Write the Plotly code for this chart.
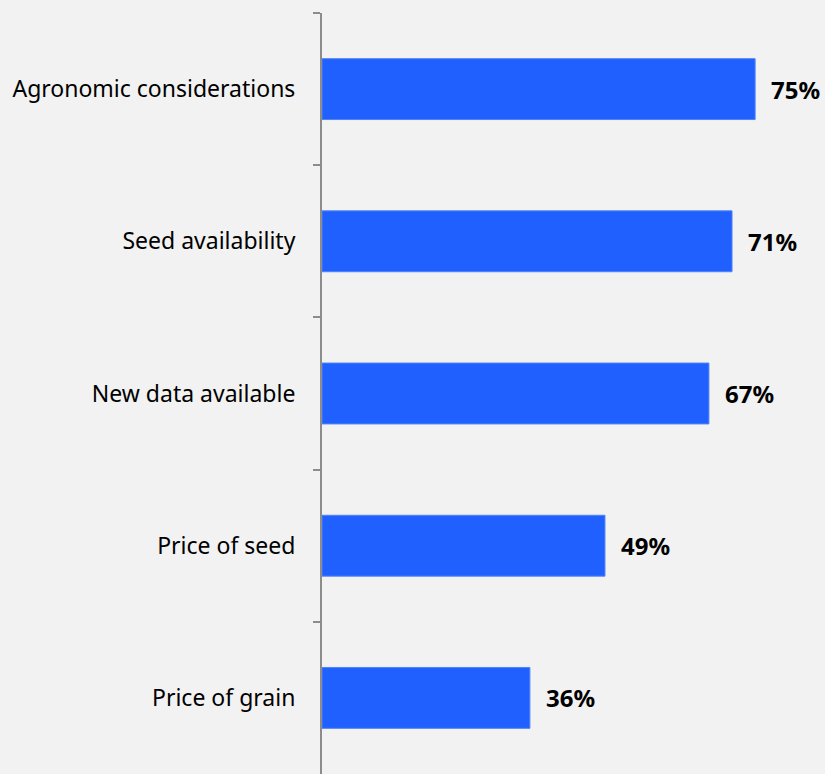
import plotly.graph_objects as go

categories = ["Agronomic considerations", "Seed availability", "New data available",
              "Price of seed", "Price of grain"]
values = [75, 71, 67, 49, 36]
labels = ["75%", "71%", "67%", "49%", "36%"]

fig = go.Figure(go.Bar(
    x=values, y=categories, orientation="h",
    marker=dict(color="#1F60FF", line=dict(color="#4F84F5", width=1)),
    hoverinfo="skip",
))

# value labels to the right of each bar
for v, c, t in zip(values, categories, labels):
    fig.add_annotation(x=v, y=c, text="<b>%s</b>" % t, showarrow=False,
                       xanchor="left", xshift=14,
                       font=dict(family="Noto Sans", size=24, color="#000000"))

fig.update_layout(
    width=825, height=774,
    margin=dict(l=322, r=0, t=13, b=0),
    paper_bgcolor="#F2F2F2", plot_bgcolor="#F2F2F2",
    bargap=0.6, showlegend=False,
    font=dict(family="Noto Sans", size=23, color="#000000"),
)
fig.update_xaxes(range=[0, 87.1], visible=False)
fig.update_yaxes(autorange="reversed", type="category", showline=True,
                 linecolor="#8C8C8C", linewidth=2, ticks="outside",
                 tickson="boundaries", ticklen=7, tickcolor="#8C8C8C",
                 tickwidth=2, ticklabelstandoff=20, showgrid=False,
                 zeroline=False)

fig.write_html("out.html", config={"displayModeBar": False},
               post_script="document.body.style.margin='0';"
                           "document.body.style.background='#F2F2F2';"
                           "document.body.style.overflow='hidden';")
